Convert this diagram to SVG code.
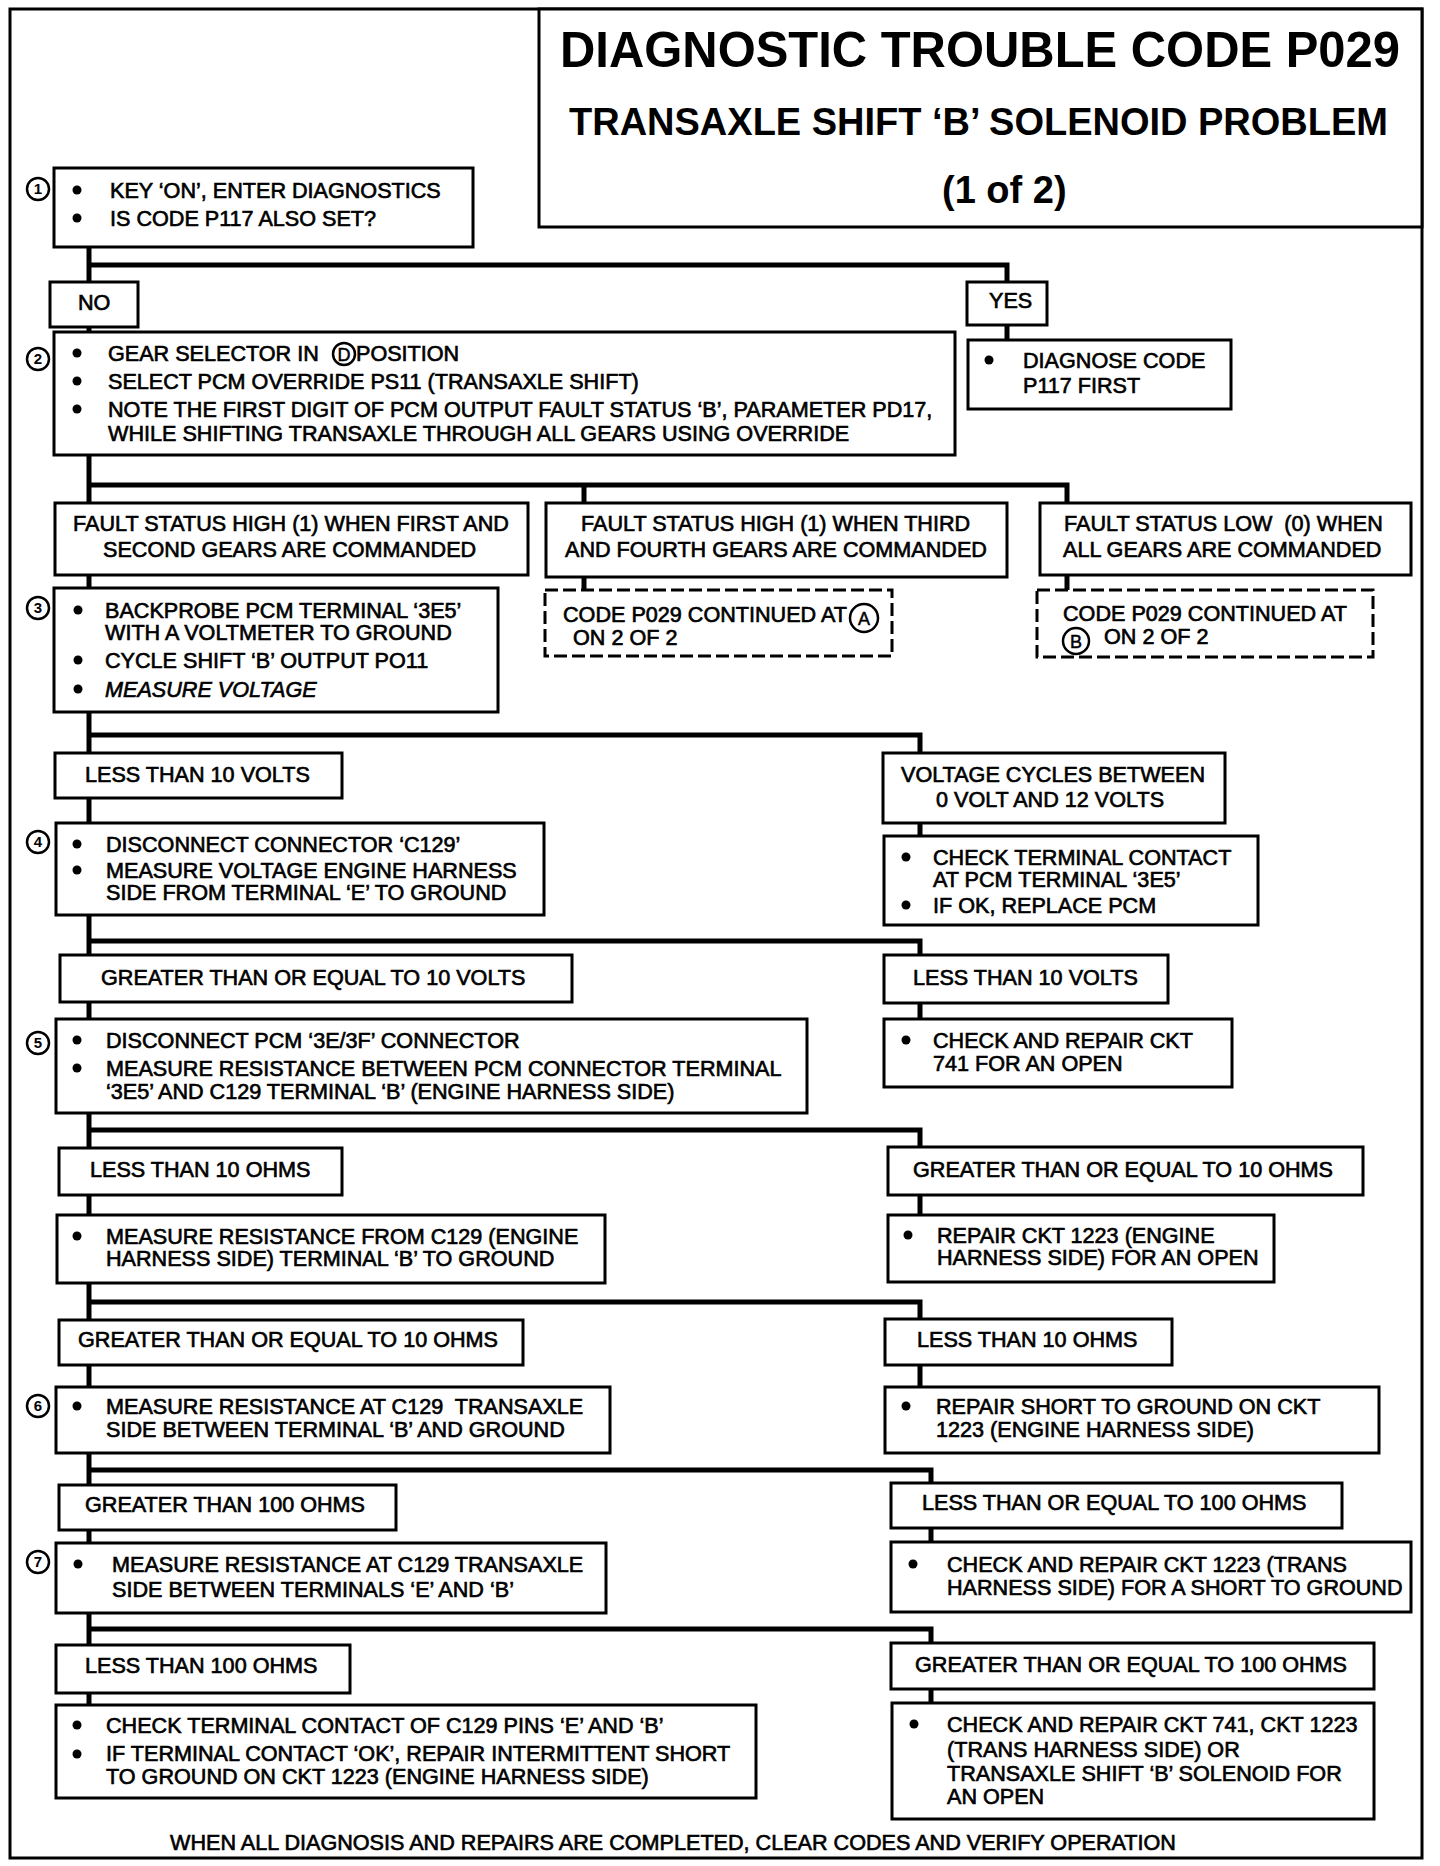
<svg xmlns="http://www.w3.org/2000/svg" width="1440" height="1866" viewBox="0 0 1440 1866">
<style>
.frame{fill:none;stroke:#000;stroke-width:3}
.box{fill:#fff;stroke:#000;stroke-width:3}
.dash{fill:#fff;stroke:#000;stroke-width:3;stroke-dasharray:13 5}
.conn{fill:none;stroke:#000;stroke-width:5;stroke-linejoin:miter}
.t{font-family:"Liberation Sans",Arial,Helvetica,sans-serif;font-size:21.6px;fill:#000;stroke:#000;stroke-width:0.65}
.h{font-family:"Liberation Sans",Arial,Helvetica,sans-serif;font-weight:bold;fill:#000}
.num{fill:#fff;stroke:#000;stroke-width:2.5}
.nt{font-family:"Liberation Sans",Arial,Helvetica,sans-serif;font-weight:bold;font-size:15px;text-anchor:middle;fill:#000}
.lt{font-family:"Liberation Sans",Arial,Helvetica,sans-serif;font-size:18px;text-anchor:middle;fill:#000;stroke:#000;stroke-width:0.5}
.b{fill:#000}
</style>
<rect x="0" y="0" width="1440" height="1866" fill="#fff"/>
<rect class="frame" x="10" y="9" width="1412" height="1849"/>

<g id="title">
<rect class="box" x="539" y="9" width="883" height="218"/>
<text class="h" x="560" y="67" font-size="50" textLength="840" lengthAdjust="spacingAndGlyphs">DIAGNOSTIC TROUBLE CODE P029</text>
<text class="h" x="569" y="135" font-size="38" textLength="819" lengthAdjust="spacingAndGlyphs">TRANSAXLE SHIFT ‘B’ SOLENOID PROBLEM</text>
<text class="h" x="942" y="203" font-size="38">(1 of 2)</text>
</g>

<g id="connectors">
<path class="conn" d="M89 247 V282"/>
<path class="conn" d="M89 265 H1007 V282"/>
<path class="conn" d="M89 327 V332"/>
<path class="conn" d="M1007 325 V340"/>
<path class="conn" d="M89 455 V503"/>
<path class="conn" d="M89 485 H1067 V503"/>
<path class="conn" d="M584 485 V503"/>
<path class="conn" d="M89 575 V588"/>
<path class="conn" d="M584 577 V590"/>
<path class="conn" d="M1067 575 V590"/>
<path class="conn" d="M89 712 V753"/>
<path class="conn" d="M89 735 H920 V753"/>
<path class="conn" d="M89 798 V823"/>
<path class="conn" d="M920 823 V836"/>
<path class="conn" d="M89 915 V955"/>
<path class="conn" d="M89 941 H920 V955"/>
<path class="conn" d="M89 1002 V1019"/>
<path class="conn" d="M920 1003 V1019"/>
<path class="conn" d="M89 1113 V1148"/>
<path class="conn" d="M89 1130 H920 V1147"/>
<path class="conn" d="M89 1195 V1215"/>
<path class="conn" d="M920 1195 V1215"/>
<path class="conn" d="M89 1283 V1320"/>
<path class="conn" d="M89 1302 H920 V1319"/>
<path class="conn" d="M89 1365 V1387"/>
<path class="conn" d="M920 1365 V1387"/>
<path class="conn" d="M89 1453 V1485"/>
<path class="conn" d="M89 1470 H931 V1483"/>
<path class="conn" d="M89 1530 V1543"/>
<path class="conn" d="M931 1528 V1542"/>
<path class="conn" d="M89 1613 V1645"/>
<path class="conn" d="M89 1629 H931 V1643"/>
<path class="conn" d="M89 1693 V1705"/>
<path class="conn" d="M931 1689 V1703"/>
</g>

<g id="step1">
<circle class="num" cx="38" cy="189" r="11"/><text class="nt" x="38" y="194">1</text>
<rect class="box" x="54" y="168" width="419" height="79"/>
<circle class="b" cx="77" cy="190" r="4.5"/><text class="t" x="110" y="198">KEY ‘ON’, ENTER DIAGNOSTICS</text>
<circle class="b" cx="77" cy="218" r="4.5"/><text class="t" x="110" y="226">IS CODE P117 ALSO SET?</text>
</g>

<g id="no">
<rect class="box" x="50" y="282" width="88" height="45"/>
<text class="t" x="78" y="310">NO</text>
</g>

<g id="yes">
<rect class="box" x="967" y="282" width="80" height="43"/>
<text class="t" x="989" y="308">YES</text>
</g>

<g id="diagnose-p117">
<rect class="box" x="968" y="340" width="263" height="69"/>
<circle class="b" cx="989" cy="360" r="4.5"/>
<text class="t" x="1023" y="368">DIAGNOSE CODE</text>
<text class="t" x="1023" y="393">P117 FIRST</text>
</g>

<g id="step2">
<circle class="num" cx="38" cy="359" r="11"/><text class="nt" x="38" y="364">2</text>
<rect class="box" x="54" y="332" width="901" height="123"/>
<circle class="b" cx="77" cy="353" r="4.5"/><text class="t" x="108" y="361">GEAR SELECTOR IN</text>
<circle class="num" cx="344" cy="354" r="11"/><text class="lt" x="344" y="361">D</text>
<text class="t" x="356" y="361">POSITION</text>
<circle class="b" cx="77" cy="381" r="4.5"/><text class="t" x="108" y="389">SELECT PCM OVERRIDE PS11 (TRANSAXLE SHIFT)</text>
<circle class="b" cx="77" cy="409" r="4.5"/><text class="t" x="108" y="417">NOTE THE FIRST DIGIT OF PCM OUTPUT FAULT STATUS ‘B’, PARAMETER PD17,</text>
<text class="t" x="108" y="441">WHILE SHIFTING TRANSAXLE THROUGH ALL GEARS USING OVERRIDE</text>
</g>

<g id="fault-high-1-2">
<rect class="box" x="55" y="503" width="473" height="72"/>
<text class="t" x="73" y="531">FAULT STATUS HIGH (1) WHEN FIRST AND</text>
<text class="t" x="103" y="557">SECOND GEARS ARE COMMANDED</text>
</g>

<g id="fault-high-3-4">
<rect class="box" x="546" y="503" width="461" height="74"/>
<text class="t" x="581" y="531">FAULT STATUS HIGH (1) WHEN THIRD</text>
<text class="t" x="565" y="557">AND FOURTH GEARS ARE COMMANDED</text>
</g>

<g id="fault-low">
<rect class="box" x="1040" y="503" width="371" height="72"/>
<text class="t" x="1064" y="531" xml:space="preserve">FAULT STATUS LOW  (0) WHEN</text>
<text class="t" x="1063" y="557">ALL GEARS ARE COMMANDED</text>
</g>

<g id="continued-a">
<rect class="dash" x="545" y="590" width="347" height="66"/>
<text class="t" x="563" y="622">CODE P029 CONTINUED AT</text>
<circle class="num" cx="864" cy="618" r="14"/><text class="lt" x="864" y="625">A</text>
<text class="t" x="573" y="645">ON 2 OF 2</text>
</g>

<g id="continued-b">
<rect class="dash" x="1037" y="590" width="336" height="67"/>
<text class="t" x="1063" y="621">CODE P029 CONTINUED AT</text>
<circle class="num" cx="1076" cy="641" r="13"/><text class="lt" x="1076" y="648">B</text>
<text class="t" x="1104" y="644">ON 2 OF 2</text>
</g>

<g id="step3">
<circle class="num" cx="38" cy="608" r="11"/><text class="nt" x="38" y="613">3</text>
<rect class="box" x="54" y="588" width="444" height="124"/>
<circle class="b" cx="78" cy="610" r="4.5"/><text class="t" x="105" y="618">BACKPROBE PCM TERMINAL ‘3E5’</text>
<text class="t" x="105" y="640">WITH A VOLTMETER TO GROUND</text>
<circle class="b" cx="78" cy="660" r="4.5"/><text class="t" x="105" y="668">CYCLE SHIFT ‘B’ OUTPUT PO11</text>
<circle class="b" cx="78" cy="689" r="4.5"/><text class="t" x="105" y="697" font-style="italic">MEASURE VOLTAGE</text>
</g>

<g id="lt10v-a">
<rect class="box" x="55" y="753" width="287" height="45"/>
<text class="t" x="85" y="782">LESS THAN 10 VOLTS</text>
</g>

<g id="voltage-cycles">
<rect class="box" x="883" y="753" width="342" height="70"/>
<text class="t" x="901" y="782">VOLTAGE CYCLES BETWEEN</text>
<text class="t" x="936" y="807">0 VOLT AND 12 VOLTS</text>
</g>

<g id="replace-pcm">
<rect class="box" x="884" y="836" width="374" height="89"/>
<circle class="b" cx="906" cy="857" r="4.5"/><text class="t" x="933" y="865">CHECK TERMINAL CONTACT</text>
<text class="t" x="933" y="887">AT PCM TERMINAL ‘3E5’</text>
<circle class="b" cx="906" cy="905" r="4.5"/><text class="t" x="933" y="913">IF OK, REPLACE PCM</text>
</g>

<g id="step4">
<circle class="num" cx="38" cy="842" r="11"/><text class="nt" x="38" y="847">4</text>
<rect class="box" x="56" y="823" width="488" height="92"/>
<circle class="b" cx="77" cy="844" r="4.5"/><text class="t" x="106" y="852">DISCONNECT CONNECTOR ‘C129’</text>
<circle class="b" cx="77" cy="870" r="4.5"/><text class="t" x="106" y="878">MEASURE VOLTAGE ENGINE HARNESS</text>
<text class="t" x="106" y="900">SIDE FROM TERMINAL ‘E’ TO GROUND</text>
</g>

<g id="gte10v">
<rect class="box" x="60" y="955" width="512" height="47"/>
<text class="t" x="101" y="985">GREATER THAN OR EQUAL TO 10 VOLTS</text>
</g>

<g id="lt10v-b">
<rect class="box" x="884" y="955" width="284" height="48"/>
<text class="t" x="913" y="985">LESS THAN 10 VOLTS</text>
</g>

<g id="repair-741">
<rect class="box" x="884" y="1019" width="348" height="68"/>
<circle class="b" cx="906" cy="1040" r="4.5"/><text class="t" x="933" y="1048">CHECK AND REPAIR CKT</text>
<text class="t" x="933" y="1071">741 FOR AN OPEN</text>
</g>

<g id="step5">
<circle class="num" cx="38" cy="1043" r="11"/><text class="nt" x="38" y="1048">5</text>
<rect class="box" x="56" y="1019" width="751" height="94"/>
<circle class="b" cx="77" cy="1040" r="4.5"/><text class="t" x="106" y="1048">DISCONNECT PCM ‘3E/3F’ CONNECTOR</text>
<circle class="b" cx="77" cy="1068" r="4.5"/><text class="t" x="106" y="1076">MEASURE RESISTANCE BETWEEN PCM CONNECTOR TERMINAL</text>
<text class="t" x="106" y="1099">‘3E5’ AND C129 TERMINAL ‘B’ (ENGINE HARNESS SIDE)</text>
</g>

<g id="lt10ohm-a">
<rect class="box" x="59" y="1148" width="283" height="47"/>
<text class="t" x="90" y="1177">LESS THAN 10 OHMS</text>
</g>

<g id="gte10ohm-a">
<rect class="box" x="888" y="1147" width="475" height="48"/>
<text class="t" x="913" y="1177">GREATER THAN OR EQUAL TO 10 OHMS</text>
</g>

<g id="repair-1223-open">
<rect class="box" x="888" y="1215" width="386" height="67"/>
<circle class="b" cx="908" cy="1235" r="4.5"/><text class="t" x="937" y="1243">REPAIR CKT 1223 (ENGINE</text>
<text class="t" x="937" y="1265">HARNESS SIDE) FOR AN OPEN</text>
</g>

<g id="measure-c129-ground">
<rect class="box" x="57" y="1215" width="548" height="68"/>
<circle class="b" cx="77" cy="1236" r="4.5"/><text class="t" x="106" y="1244">MEASURE RESISTANCE FROM C129 (ENGINE</text>
<text class="t" x="106" y="1266">HARNESS SIDE) TERMINAL ‘B’ TO GROUND</text>
</g>

<g id="gte10ohm-b">
<rect class="box" x="59" y="1320" width="464" height="45"/>
<text class="t" x="78" y="1347">GREATER THAN OR EQUAL TO 10 OHMS</text>
</g>

<g id="lt10ohm-b">
<rect class="box" x="885" y="1319" width="287" height="46"/>
<text class="t" x="917" y="1347">LESS THAN 10 OHMS</text>
</g>

<g id="repair-short-engine">
<rect class="box" x="885" y="1387" width="494" height="66"/>
<circle class="b" cx="906" cy="1406" r="4.5"/><text class="t" x="936" y="1414">REPAIR SHORT TO GROUND ON CKT</text>
<text class="t" x="936" y="1437">1223 (ENGINE HARNESS SIDE)</text>
</g>

<g id="step6">
<circle class="num" cx="38" cy="1406" r="11"/><text class="nt" x="38" y="1411">6</text>
<rect class="box" x="56" y="1387" width="554" height="66"/>
<circle class="b" cx="77" cy="1406" r="4.5"/><text class="t" x="106" y="1414" xml:space="preserve">MEASURE RESISTANCE AT C129  TRANSAXLE</text>
<text class="t" x="106" y="1437">SIDE BETWEEN TERMINAL ‘B’ AND GROUND</text>
</g>

<g id="gt100ohm">
<rect class="box" x="59" y="1485" width="337" height="45"/>
<text class="t" x="85" y="1512">GREATER THAN 100 OHMS</text>
</g>

<g id="le100ohm">
<rect class="box" x="891" y="1483" width="451" height="45"/>
<text class="t" x="922" y="1510">LESS THAN OR EQUAL TO 100 OHMS</text>
</g>

<g id="repair-1223-trans">
<rect class="box" x="891" y="1542" width="520" height="70"/>
<circle class="b" cx="913" cy="1564" r="4.5"/><text class="t" x="947" y="1572">CHECK AND REPAIR CKT 1223 (TRANS</text>
<text class="t" x="947" y="1595">HARNESS SIDE) FOR A SHORT TO GROUND</text>
</g>

<g id="step7">
<circle class="num" cx="38" cy="1562" r="11"/><text class="nt" x="38" y="1567">7</text>
<rect class="box" x="56" y="1543" width="550" height="70"/>
<circle class="b" cx="78" cy="1564" r="4.5"/><text class="t" x="112" y="1572">MEASURE RESISTANCE AT C129 TRANSAXLE</text>
<text class="t" x="112" y="1597">SIDE BETWEEN TERMINALS ‘E’ AND ‘B’</text>
</g>

<g id="lt100ohm">
<rect class="box" x="56" y="1645" width="294" height="48"/>
<text class="t" x="85" y="1673">LESS THAN 100 OHMS</text>
</g>

<g id="gte100ohm">
<rect class="box" x="891" y="1643" width="483" height="46"/>
<text class="t" x="915" y="1672">GREATER THAN OR EQUAL TO 100 OHMS</text>
</g>

<g id="check-c129-pins">
<rect class="box" x="56" y="1705" width="700" height="93"/>
<circle class="b" cx="77" cy="1725" r="4.5"/><text class="t" x="106" y="1733">CHECK TERMINAL CONTACT OF C129 PINS ‘E’ AND ‘B’</text>
<circle class="b" cx="77" cy="1754" r="4.5"/><text class="t" x="106" y="1761">IF TERMINAL CONTACT ‘OK’, REPAIR INTERMITTENT SHORT</text>
<text class="t" x="106" y="1784">TO GROUND ON CKT 1223 (ENGINE HARNESS SIDE)</text>
</g>

<g id="repair-741-1223-solenoid">
<rect class="box" x="892" y="1703" width="482" height="116"/>
<circle class="b" cx="914" cy="1724" r="4.5"/><text class="t" x="947" y="1732">CHECK AND REPAIR CKT 741, CKT 1223</text>
<text class="t" x="947" y="1757">(TRANS HARNESS SIDE) OR</text>
<text class="t" x="947" y="1781">TRANSAXLE SHIFT ‘B’ SOLENOID FOR</text>
<text class="t" x="947" y="1804">AN OPEN</text>
</g>

<g id="footer">
<text class="t" x="170" y="1850">WHEN ALL DIAGNOSIS AND REPAIRS ARE COMPLETED, CLEAR CODES AND VERIFY OPERATION</text>
</g>
</svg>
